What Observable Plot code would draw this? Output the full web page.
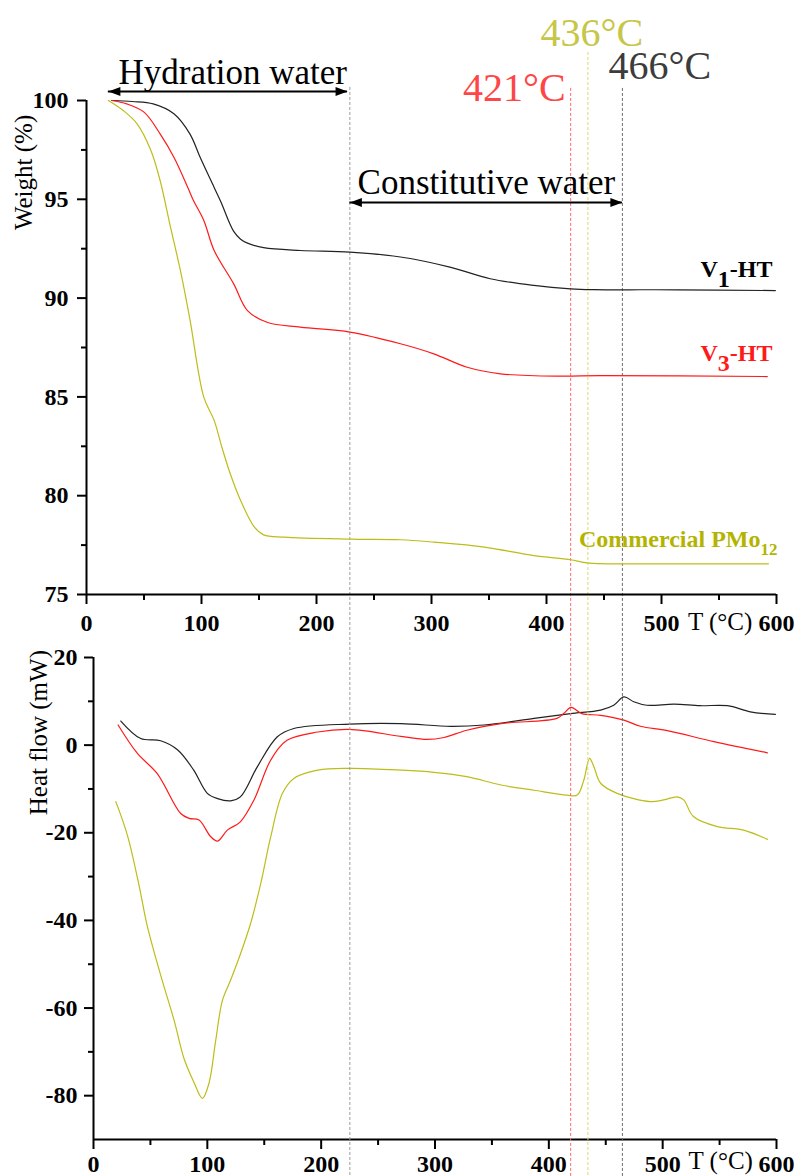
<!DOCTYPE html>
<html>
<head>
<meta charset="utf-8">
<script src="https://cdn.jsdelivr.net/npm/d3@7"></script>
<script src="https://cdn.jsdelivr.net/npm/@observablehq/plot@0.6"></script>
<style>
html, body { margin: 0; padding: 0; background: #fff; overflow: hidden; }
#wrap { position: relative; width: 799px; height: 1176px; }
#top { position: absolute; left: 0; top: 0; z-index: 2; }
#bottom { position: absolute; left: 0; top: 645px; z-index: 1; }
#top svg { overflow: visible; }
</style>
</head>
<body>
<div id="wrap"><div id="top"></div><div id="bottom"></div></div>
<script>
const FONT = "'Liberation Serif','Times New Roman',Times,serif";

// ---------------- data ----------------
const samples = ["V1-HT", "V3-HT", "Commercial PMo12"];
const lineColors = ["#222222", "#ff1a1a", "#bdbd1a"];

// TGA (weight %)
const tgaT_V1 = [22, 40, 58, 76, 90, 99, 111, 117, 124, 128, 134, 140, 154, 186, 229, 273, 316, 351, 389, 421, 441, 514, 599];
const tgaW_V1 = [100, 99.95, 99.83, 99.33, 98.3, 97.1, 95.6, 94.85, 93.85, 93.38, 92.98, 92.78, 92.55, 92.41, 92.33, 92.08, 91.57, 90.98, 90.64, 90.47, 90.43, 90.42, 90.38];

const tgaT_V3 = [22, 35, 50, 64, 76, 88, 93, 102, 111, 128, 140, 157, 186, 229, 273, 302, 331, 360, 412, 447, 592];
const tgaW_V3 = [100, 99.83, 99.41, 98.31, 97.13, 95.61, 94.94, 93.93, 92.41, 90.72, 89.37, 88.78, 88.53, 88.28, 87.69, 87.18, 86.5, 86.17, 86.05, 86.08, 86.03];

const tgaT_PMo = [19, 32, 44, 56, 64, 73, 82, 90, 102, 111, 118, 125, 134, 146, 154, 172, 229, 273, 302, 346, 389, 421, 435, 505, 593];
const tgaW_PMo = [100, 99.49, 98.82, 97.47, 95.95, 93.6, 91.3, 88.9, 84.99, 83.81, 82.4, 81.11, 79.76, 78.41, 78.02, 77.9, 77.8, 77.77, 77.65, 77.4, 76.97, 76.76, 76.6, 76.55, 76.55];

// DSC (heat flow, mW)
const dscT_V1 = [24, 41.5, 59, 74, 88, 100, 109, 120.5, 129, 144, 161.5, 176, 225, 270, 314, 343, 387, 419, 445.5, 457, 466, 474.6, 486, 510, 533, 557, 577, 599];
const dscH_V1 = [5.5, 1.5, 1.0, -1.1, -5.7, -11.0, -12.2, -12.7, -11.8, -4.9, 1.9, 3.8, 4.8, 4.9, 4.3, 4.6, 6.1, 7.2, 8.0, 9.1, 11.0, 9.9, 9.1, 9.35, 9.0, 9.0, 7.6, 7.0];

const dscT_V3 = [21.6, 38.6, 56, 76.6, 84, 92.7, 103, 109, 117.6, 129, 141, 155.7, 170, 197, 225, 270, 293, 308, 328, 358, 407, 413, 419.6, 429, 445.5, 466, 480.5, 504, 545, 592];
const dscH_V3 = [4.6, -1.9, -6.5, -15.6, -16.7, -17.1, -20.9, -21.9, -19.4, -17.5, -12.5, -3.4, 1.1, 3.0, 3.6, 2.0, 1.3, 1.75, 3.4, 4.9, 6.1, 7.2, 8.6, 7.2, 6.8, 5.7, 4.3, 3.3, 0.8, -1.75];

const dscT_PMo = [19.6, 29.8, 40, 47, 59, 71, 79.5, 88, 95.7, 101.5, 107.4, 113.3, 120.5, 129.3, 138, 147, 155.7, 166, 176, 197, 225, 270, 299, 328, 358, 387, 416, 425, 430.7, 435.8, 439.5, 445.5, 460, 489, 501, 512.7, 518.5, 527, 548, 571, 592];
const dscH_PMo = [-12.9, -20.6, -32, -41, -52.5, -63, -71.5, -76.8, -80.6, -77.1, -67.3, -58.2, -53.6, -47.5, -40.7, -31.5, -20.9, -11.0, -7.6, -5.7, -5.3, -5.7, -6.2, -7.2, -9.1, -10.3, -11.4, -11.4, -8.0, -3.0, -4.9, -8.7, -11.0, -12.9, -12.5, -11.8, -12.5, -16.3, -18.6, -19.4, -21.5];

// marker temperatures (dashed lines)
const markerTemps = [229, 421, 436, 466];
const markerColors = ["#9a9a9a", "#ff6a6a", "#dada70", "#6c6c6c"];
const markerLabels = ["", "421°C", "436°C", "466°C"];
const markerLabelColors = ["", "#ff4646", "#c6c648", "#3c3c3c"];

// axes
const tempDomain = [0, 600];
const xTicks = [0, 100, 200, 300, 400, 500, 600];
const xMinor = [50, 150, 250, 350, 450, 550];
const weightDomain = [75, 100];
const wTicks = [75, 80, 85, 90, 95, 100];
const wMinor = [77.5, 82.5, 87.5, 92.5, 97.5];
const heatDomain = [-90, 20];
const hTicks = [-80, -60, -40, -20, 0, 20];
const hMinor = [-70, -50, -30, -10, 10];

const xTitle = "T (°C)";
const wTitle = "Weight (%)";
const hTitle = "Heat flow (mW)";
const seriesLabels = ["V_{1}-HT", "V_{3}-HT", "Commercial PMo_{12}"];
const regionLabels = ["Hydration water", "Constitutive water"];

// ---------------- helpers ----------------
const rows = (T, V) => T.map((t, i) => ({T: t, v: V[i]}));
const tga = [rows(tgaT_V1, tgaW_V1), rows(tgaT_V3, tgaW_V3), rows(tgaT_PMo, tgaW_PMo)];
const dsc = [rows(dscT_V1, dscH_V1), rows(dscT_V3, dscH_V3), rows(dscT_PMo, dscH_PMo)];
const fmt = d => String(d);

const headRight = {draw(ctx) { ctx.moveTo(0, 0); ctx.lineTo(-12, -4.5); ctx.lineTo(-12, 4.5); ctx.closePath(); }};
const headLeft = {draw(ctx) { ctx.moveTo(0, 0); ctx.lineTo(12, -4.5); ctx.lineTo(12, 4.5); ctx.closePath(); }};

function axisMarks(yTicks, yMinor, yPad, xPad) {
  return [
    Plot.axisX({ticks: xTicks, tickSize: 10, tickPadding: xPad, tickFormat: fmt, fontSize: 24, fontWeight: "bold", strokeWidth: 2, label: null}),
    Plot.axisX({ticks: xMinor, tickSize: 6, tickFormat: () => "", strokeWidth: 2, label: null}),
    Plot.axisY({ticks: yTicks, tickSize: 9, tickPadding: yPad, tickFormat: fmt, fontSize: 24, fontWeight: "bold", strokeWidth: 2, label: null}),
    Plot.axisY({ticks: yMinor, tickSize: 5, tickFormat: () => "", strokeWidth: 2, label: null})
  ];
}

function subscripts(svg, spec) {
  d3.select(svg).selectAll("text").each(function () {
    const s = this.textContent;
    const m = s.match(/^(.*?)_\{(.+?)\}(.*)$/);
    if (!m) return;
    const o = spec[s] || {size: null, shift: 8};
    const el = d3.select(this);
    el.text(null);
    el.append("tspan").text(m[1]);
    const t = el.append("tspan").attr("dy", o.shift).text(m[2]);
    if (o.size) t.attr("font-size", o.size);
    if (m[3]) el.append("tspan").attr("dy", -o.shift).text(m[3]);
  });
}

const curve = "catmull-rom";

// ---------------- top: TGA ----------------
const topMarks = [];
markerTemps.forEach((t, k) => {
  const top = [100.66, 100.61, 102.43, 100.61][k];
  topMarks.push(Plot.ruleX([t], {y1: top, y2: 45.5, stroke: markerColors[k], strokeWidth: 1, strokeDasharray: "3,2"}));
});
tga.forEach((d, k) => topMarks.push(Plot.line(d, {x: "T", y: "v", stroke: lineColors[k], strokeWidth: 1.2, curve})));
// axis lines
topMarks.push(Plot.ruleX([tempDomain[0]], {y1: weightDomain[0], y2: weightDomain[1], strokeWidth: 2}));
topMarks.push(Plot.ruleY([weightDomain[0]], {x1: tempDomain[0], x2: tempDomain[1], strokeWidth: 2}));
topMarks.push(...axisMarks(wTicks, wMinor, 9, 9));
// arrows
const arrows = [{x1: 19, x2: 227, y: 100.46}, {x1: 229, x2: 466, y: 94.84}];
topMarks.push(Plot.ruleY(arrows, {y: "y", x1: "x1", x2: "x2", strokeWidth: 2, stroke: "black"}));
topMarks.push(Plot.dot(arrows, {x: "x2", y: "y", symbol: headRight, r: 3, fill: "black", stroke: "none"}));
topMarks.push(Plot.dot(arrows, {x: "x1", y: "y", symbol: headLeft, r: 3, fill: "black", stroke: "none"}));
// region labels
topMarks.push(Plot.text([regionLabels[0]], {x: 27.8, y: 100.86, textAnchor: "start", lineAnchor: "bottom", fontSize: 35, fill: "black"}));
topMarks.push(Plot.text([regionLabels[1]], {x: 235.7, y: 95.29, textAnchor: "start", lineAnchor: "bottom", fontSize: 35, fill: "black"}));
// temperature labels
topMarks.push(Plot.text([markerLabels[1]], {x: markerTemps[1], y: 100, dx: -5, textAnchor: "end", lineAnchor: "bottom", fontSize: 40, fill: markerLabelColors[1]}));
topMarks.push(Plot.text([markerLabels[2]], {x: markerTemps[2], y: 102.78, dx: 4, textAnchor: "middle", lineAnchor: "bottom", fontSize: 40, fill: markerLabelColors[2]}));
topMarks.push(Plot.text([markerLabels[3]], {x: markerTemps[3], y: 101.11, dx: -14, textAnchor: "start", lineAnchor: "bottom", fontSize: 40, fill: markerLabelColors[3]}));
// series labels
topMarks.push(Plot.text([seriesLabels[0]], {x: tempDomain[1], y: 91.09, dx: -4, textAnchor: "end", lineAnchor: "bottom", fontSize: 24, fontWeight: "bold", fill: "black"}));
topMarks.push(Plot.text([seriesLabels[1]], {x: tempDomain[1], y: 86.84, dx: -4, textAnchor: "end", lineAnchor: "bottom", fontSize: 24, fontWeight: "bold", fill: "#ff1a1a"}));
topMarks.push(Plot.text([seriesLabels[2]], {x: tempDomain[1], y: 77.38, dx: 1, textAnchor: "end", lineAnchor: "bottom", fontSize: 24, fontWeight: "bold", fill: "#b4b400"}));
// axis titles
topMarks.push(Plot.text([wTitle], {y: 96.36, frameAnchor: "left", dx: -63, rotate: -90, textAnchor: "middle", lineAnchor: "middle", fontSize: 25}));
topMarks.push(Plot.text([xTitle], {x: 551, frameAnchor: "bottom", dy: 35, textAnchor: "middle", lineAnchor: "bottom", fontSize: 25}));

const topPlot = Plot.plot({
  width: 799, height: 645,
  marginLeft: 86, marginRight: 23, marginTop: 100, marginBottom: 51,
  style: {fontFamily: FONT, background: "transparent", overflow: "visible", color: "black"},
  x: {domain: tempDomain, label: null},
  y: {domain: weightDomain, label: null},
  marks: topMarks
});
subscripts(topPlot, {
  "V_{1}-HT": {size: null, shift: 10},
  "V_{3}-HT": {size: null, shift: 10},
  "Commercial PMo_{12}": {size: 17, shift: 8}
});
document.getElementById("top").appendChild(topPlot);

// ---------------- bottom: DSC ----------------
const botMarks = [];
dsc.forEach((d, k) => botMarks.push(Plot.line(d, {x: "T", y: "v", stroke: lineColors[k], strokeWidth: 1.2, curve})));
botMarks.push(Plot.ruleX([tempDomain[0]], {y1: heatDomain[0], y2: heatDomain[1], strokeWidth: 2}));
botMarks.push(Plot.ruleY([heatDomain[0]], {x1: tempDomain[0], x2: tempDomain[1], strokeWidth: 2}));
botMarks.push(...axisMarks(hTicks, hMinor, 7, 5));
botMarks.push(Plot.text([hTitle], {y: 2.85, frameAnchor: "left", dx: -55, rotate: -90, textAnchor: "middle", lineAnchor: "middle", fontSize: 25}));
botMarks.push(Plot.text([xTitle], {x: 551, frameAnchor: "bottom", dy: 29, textAnchor: "middle", lineAnchor: "bottom", fontSize: 25}));

const botPlot = Plot.plot({
  width: 799, height: 531,
  marginLeft: 93, marginRight: 23, marginTop: 12, marginBottom: 37,
  style: {fontFamily: FONT, background: "white", overflow: "visible", color: "black"},
  x: {domain: tempDomain, label: null},
  y: {domain: heatDomain, label: null},
  marks: botMarks
});
document.getElementById("bottom").appendChild(botPlot);
</script>
</body>
</html>
